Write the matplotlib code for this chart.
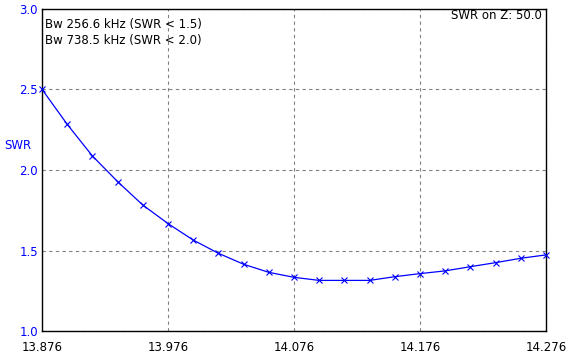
import matplotlib
matplotlib.use("Agg")
import matplotlib.pyplot as plt

freq_mhz = [13.876, 13.896, 13.916, 13.936, 13.956, 13.976, 13.996, 14.016, 14.036,
            14.056, 14.076, 14.096, 14.116, 14.136, 14.156, 14.176, 14.196, 14.216,
            14.236, 14.256, 14.276]
swr = [2.50, 2.283, 2.087, 1.928, 1.783, 1.668, 1.566, 1.484, 1.416, 1.366, 1.335,
       1.316, 1.316, 1.316, 1.339, 1.358, 1.375, 1.401, 1.426, 1.453, 1.474]
x_ticks = [13.876, 13.976, 14.076, 14.176, 14.276]
x_tick_labels = ["13.876", "13.976", "14.076", "14.176", "14.276"]
y_ticks = [1.0, 1.5, 2.0, 2.5, 3.0]
y_tick_labels = ["1.0", "1.5", "2.0", "2.5", "3.0"]
bw_lines = ["Bw 256.6 kHz (SWR < 1.5)", "Bw 738.5 kHz (SWR < 2.0)"]
z_label = "SWR on Z: 50.0"

plt.rcParams['font.family'] = ['DejaVu Sans']
FS = 8.5

fig = plt.figure(figsize=(5.70, 3.58), dpi=100)
W, H = 570, 358
ax_top, ax_bot = 8.6, 331.4
ax_h = ax_bot - ax_top
ax = fig.add_axes([42 / W, (H - ax_bot) / H, (546 - 42) / W, ax_h / H])

ax.plot(freq_mhz, swr, color=(0, 0, 1), lw=0.9, marker='x', ms=5, mew=0.8, zorder=3,
        clip_on=False)

ax.set_xlim(x_ticks[0], x_ticks[-1])
ax.set_ylim(y_ticks[0], y_ticks[-1])
ax.set_xticks(x_ticks)
ax.set_xticklabels(x_tick_labels)
ax.set_yticks(y_ticks)
ax.set_yticklabels(y_tick_labels)
ax.tick_params(axis='both', length=0, labelsize=FS)
ax.tick_params(axis='x', pad=6.7, colors='black')
ax.tick_params(axis='y', pad=3, labelcolor=(0, 0, 1))

ax.grid(True, color=(0.5, 0.5, 0.5), linestyle=(0, (3, 3)), linewidth=0.8)
for s in ax.spines.values():
    s.set_color('black')
    s.set_linewidth(1.0)

fig.text(18 / W, 1 - 145 / H, "SWR", color=(0, 0, 1), fontsize=FS, ha='center', va='center')

ax.text(3 / 504, 1 - (28.3 - ax_top) / ax_h, bw_lines[0], transform=ax.transAxes,
        fontsize=FS, ha='left', va='baseline', color='black')
ax.text(3 / 504, 1 - (44.3 - ax_top) / ax_h, bw_lines[1], transform=ax.transAxes,
        fontsize=FS, ha='left', va='baseline', color='black')
ax.text(1 - 4.5 / 504, 1 - (19.0 - ax_top) / ax_h, z_label, transform=ax.transAxes,
        fontsize=FS, ha='right', va='baseline', color='black')

fig.savefig("out.png", dpi=100, facecolor='white')
